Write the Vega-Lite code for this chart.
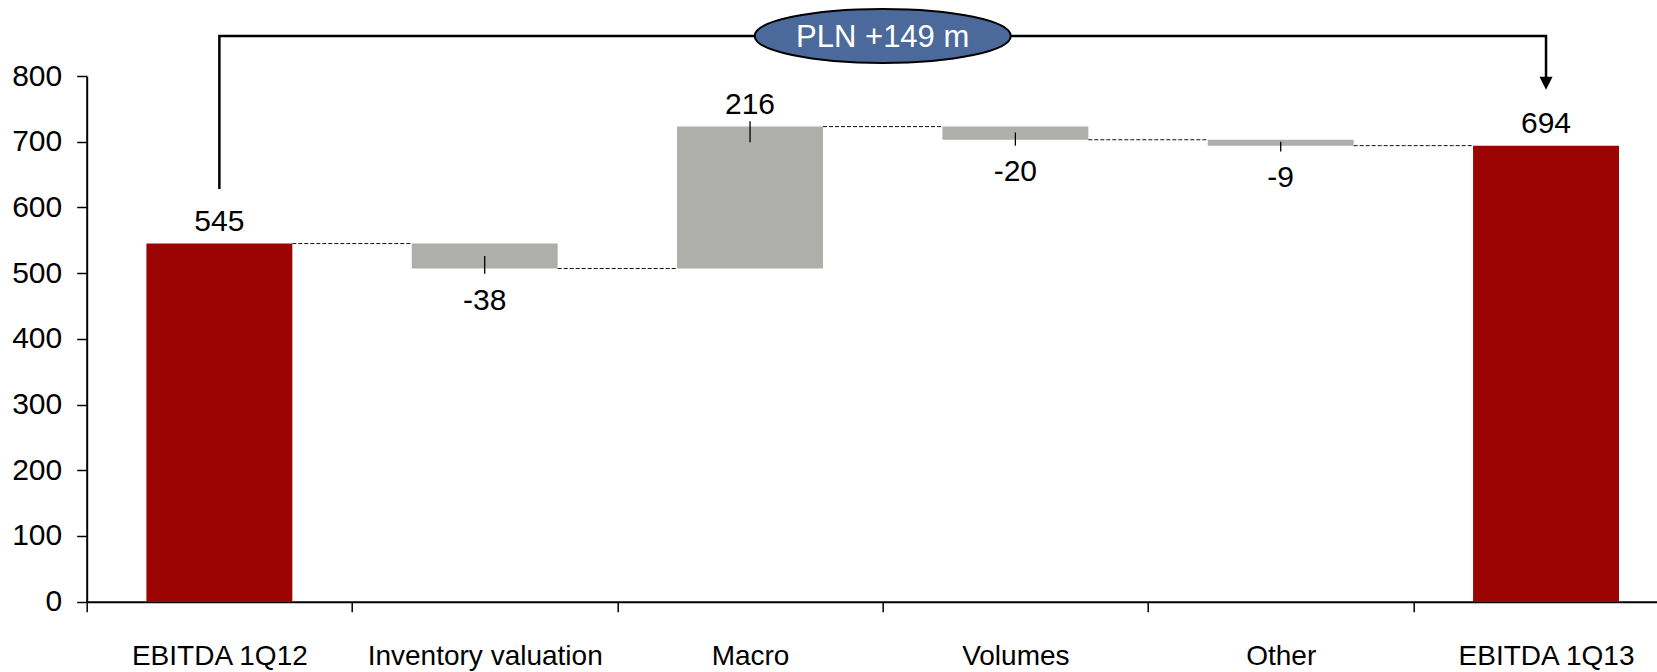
{
  "$schema": "https://vega.github.io/schema/vega-lite/v6.json",
  "width": 1570,
  "height": 525.7,
  "autosize": {"type": "none"},
  "padding": {"left": 86.7, "top": 76, "right": 0.3, "bottom": 70.3},
  "background": "white",
  "config": {
    "view": {"stroke": null},
    "font": "Liberation Sans",
    "axis": {"grid": false, "title": null, "domainColor": "black", "tickColor": "black", "labelColor": "black", "domainWidth": 2, "tickWidth": 1.5, "tickSize": 10}
  },
  "datasets": {
    "bars": [
      {"cat": "EBITDA 1Q12", "start": 0, "end": 545, "label": "545", "kind": "total", "next": "Inventory valuation"},
      {"cat": "Inventory valuation", "start": 545, "end": 507, "label": "-38", "kind": "down", "next": "Macro", "tickLo": 499, "tickHi": 526},
      {"cat": "Macro", "start": 507, "end": 723, "label": "216", "kind": "up", "next": "Volumes", "tickLo": 699, "tickHi": 731},
      {"cat": "Volumes", "start": 723, "end": 703, "label": "-20", "kind": "down", "next": "Other", "tickLo": 694, "tickHi": 714},
      {"cat": "Other", "start": 703, "end": 694, "label": "-9", "kind": "down", "next": "EBITDA 1Q13", "tickLo": 685, "tickHi": 700},
      {"cat": "EBITDA 1Q13", "start": 0, "end": 694, "label": "694", "kind": "total"}
    ],
    "bracket": [
      {"cat": "EBITDA 1Q12", "y": 628, "seq": 1},
      {"cat": "EBITDA 1Q12", "y": 861, "seq": 2},
      {"cat": "EBITDA 1Q13", "y": 861, "seq": 3},
      {"cat": "EBITDA 1Q13", "y": 795, "seq": 4}
    ],
    "arrow": [{"cat": "EBITDA 1Q13", "y": 789}],
    "note": [{"cat": "Macro", "y": 861, "text": "PLN +149 m"}]
  },
  "layer": [
    {
      "data": {"name": "bars"},
      "mark": {"type": "bar", "width": {"band": 0.55}},
      "encoding": {
        "x": {
          "field": "cat", "type": "nominal", "sort": null,
          "scale": {"domain": ["EBITDA 1Q12", "Inventory valuation", "Macro", "Volumes", "Other", "EBITDA 1Q13"], "range": [0, 1592], "paddingInner": 0, "paddingOuter": 0},
          "axis": {"tickBand": "extent", "labelAngle": 0, "labelFontSize": 28, "labelPadding": 31, "labelLimit": 0, "labelFont": "Liberation Sans"}
        },
        "y": {
          "field": "start", "type": "quantitative",
          "scale": {"domain": [0, 800], "nice": false, "zero": false},
          "axis": {"values": [0, 100, 200, 300, 400, 500, 600, 700, 800], "labelFontSize": 30, "labelFont": "Liberation Sans", "labelPadding": 15}
        },
        "y2": {"field": "end"},
        "color": {
          "field": "kind", "type": "nominal", "legend": null,
          "scale": {"domain": ["total", "up", "down"], "range": ["#9c0303", "#aeaeaa", "#aeaeaa"]}
        }
      }
    },
    {
      "data": {"name": "bars"},
      "transform": [{"filter": "datum.next != null"}],
      "mark": {"type": "rule", "strokeDash": [4, 2], "strokeWidth": 1, "color": "#111"},
      "encoding": {
        "x": {"field": "cat", "type": "nominal", "sort": null, "bandPosition": 0.775},
        "x2": {"field": "next", "bandPosition": 0.225},
        "y": {"field": "end", "type": "quantitative"}
      }
    },
    {
      "data": {"name": "bars"},
      "transform": [{"filter": "datum.tickLo != null"}],
      "mark": {"type": "rule", "strokeWidth": 1.3, "color": "black"},
      "encoding": {
        "x": {"field": "cat", "type": "nominal", "sort": null},
        "y": {"field": "tickLo", "type": "quantitative"},
        "y2": {"field": "tickHi"}
      }
    },
    {
      "data": {"name": "bars"},
      "transform": [{"filter": "datum.kind != 'down'"}],
      "mark": {"type": "text", "baseline": "alphabetic", "dy": -13, "fontSize": 30, "font": "Liberation Sans", "color": "black"},
      "encoding": {
        "x": {"field": "cat", "type": "nominal", "sort": null},
        "y": {"field": "end", "type": "quantitative"},
        "text": {"field": "label"}
      }
    },
    {
      "data": {"name": "bars"},
      "transform": [{"filter": "datum.kind == 'down'"}],
      "mark": {"type": "text", "baseline": "alphabetic", "dy": 41, "fontSize": 30, "font": "Liberation Sans", "color": "black"},
      "encoding": {
        "x": {"field": "cat", "type": "nominal", "sort": null},
        "y": {"field": "end", "type": "quantitative"},
        "text": {"field": "label"}
      }
    },
    {
      "data": {"name": "bracket"},
      "mark": {"type": "line", "color": "black", "strokeWidth": 2.5, "strokeJoin": "miter", "strokeCap": "butt"},
      "encoding": {
        "x": {"field": "cat", "type": "nominal", "sort": null},
        "y": {"field": "y", "type": "quantitative"},
        "order": {"field": "seq", "type": "quantitative"}
      }
    },
    {
      "data": {"name": "arrow"},
      "mark": {"type": "point", "shape": "M-1,-1L1,-1L0,1Z", "filled": true, "color": "black", "opacity": 1, "size": 170},
      "encoding": {
        "x": {"field": "cat", "type": "nominal", "sort": null},
        "y": {"field": "y", "type": "quantitative"}
      }
    },
    {
      "data": {"name": "note"},
      "mark": {"type": "point", "shape": "M-1,0A1,0.211,0,1,0,1,0A1,0.211,0,1,0,-1,0Z", "filled": true, "fill": "#4b6a9b", "stroke": "black", "strokeWidth": 2, "opacity": 1, "size": 65536},
      "encoding": {
        "x": {"field": "cat", "type": "nominal", "sort": null, "bandPosition": 1},
        "y": {"field": "y", "type": "quantitative"}
      }
    },
    {
      "data": {"name": "note"},
      "mark": {"type": "text", "baseline": "middle", "fontSize": 31, "color": "white", "font": "Liberation Sans", "dy": 2},
      "encoding": {
        "x": {"field": "cat", "type": "nominal", "sort": null, "bandPosition": 1},
        "y": {"field": "y", "type": "quantitative"},
        "text": {"field": "text"}
      }
    }
  ]
}
